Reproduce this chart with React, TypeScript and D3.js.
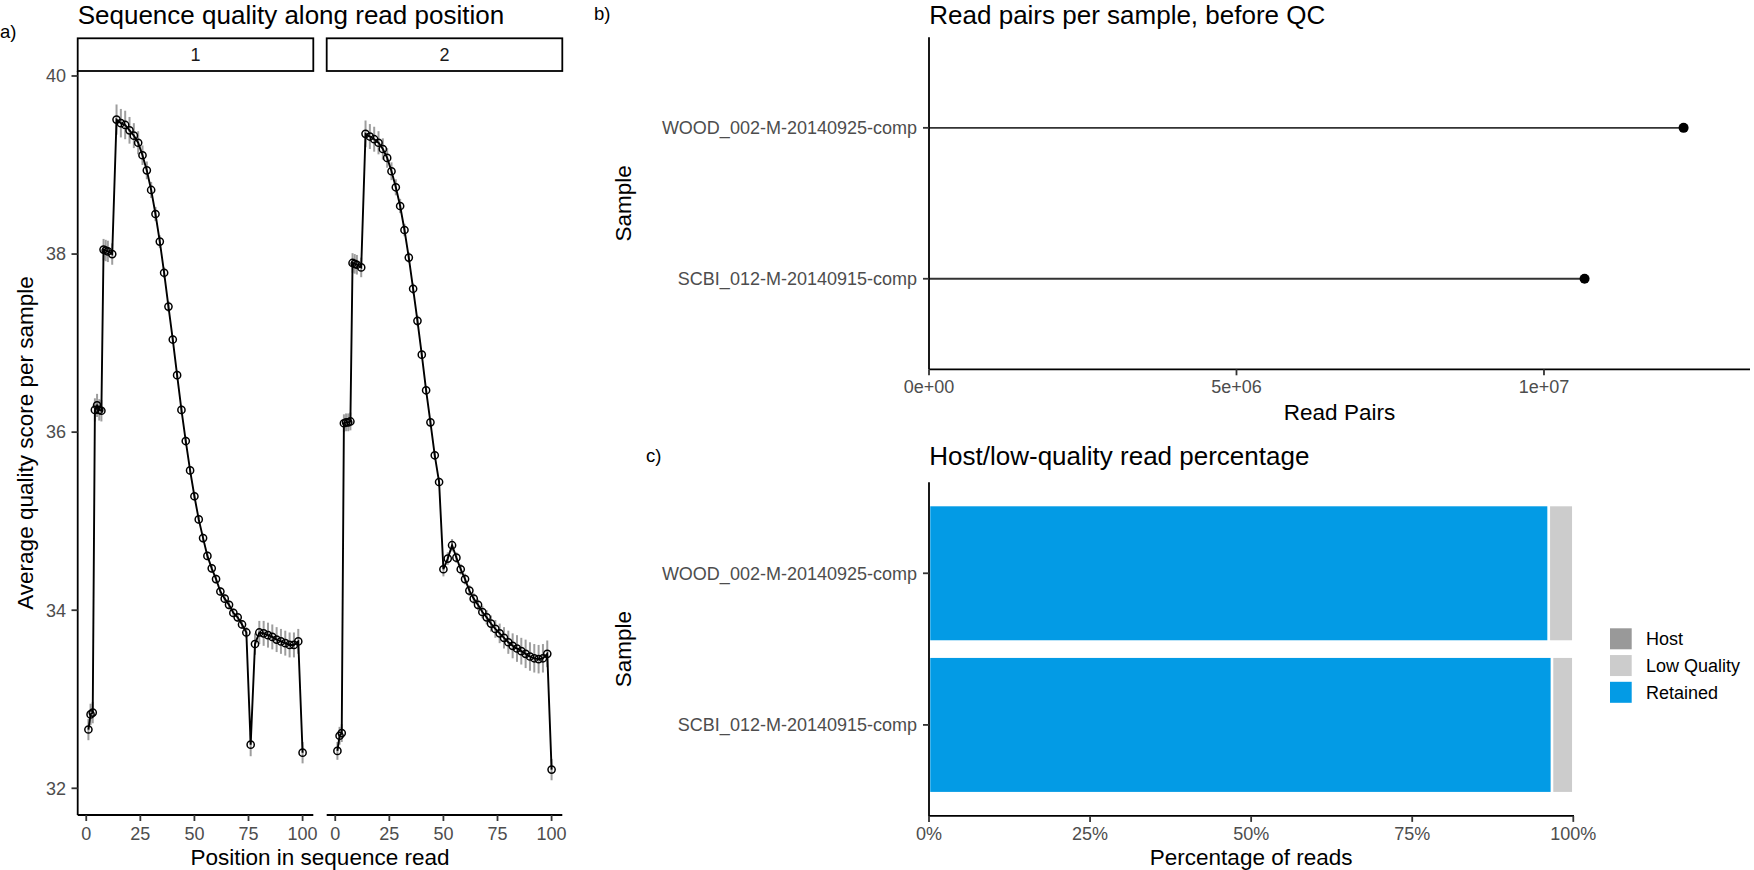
import React from "react";
import * as d3 from "d3";

// read position bins (FastQC-style grouping after base 9)
const positions = [
  1, 2, 3, 4, 5, 6, 7, 8, 9, 10, 12, 14, 16, 18, 20, 22, 24, 26, 28, 30, 32, 34,
  36, 38, 40, 42, 44, 46, 48, 50, 52, 54, 56, 58, 60, 62, 64, 66, 68, 70, 72,
  74, 76, 78, 80, 82, 84, 86, 88, 90, 92, 94, 96, 98, 100,
];

const read1Quality = [
  32.66, 32.83, 32.85, 36.25, 36.3, 36.25, 36.24, 38.05, 38.04, 38.03, 38.0,
  39.51, 39.47, 39.45, 39.39, 39.33, 39.25, 39.11, 38.94, 38.72, 38.45, 38.14,
  37.79, 37.41, 37.04, 36.64, 36.25, 35.9, 35.57, 35.28, 35.02, 34.81, 34.61,
  34.47, 34.35, 34.21, 34.13, 34.06, 33.97, 33.92, 33.84, 33.75, 32.49, 33.62,
  33.75, 33.74, 33.72, 33.7, 33.67, 33.65, 33.63, 33.61, 33.61, 33.65, 32.4,
];
const read1Error = [
  0.12, 0.12, 0.12, 0.13, 0.13, 0.12, 0.12, 0.12, 0.12, 0.12, 0.12, 0.17, 0.16,
  0.16, 0.15, 0.14, 0.13, 0.11, 0.1, 0.09, 0.08, 0.07, 0.06, 0.06, 0.05, 0.05,
  0.05, 0.05, 0.05, 0.05, 0.05, 0.05, 0.05, 0.05, 0.05, 0.05, 0.05, 0.05, 0.05,
  0.05, 0.05, 0.06, 0.13, 0.12, 0.13, 0.14, 0.14, 0.14, 0.14, 0.14, 0.14, 0.14,
  0.14, 0.14, 0.12,
];

const read2Quality = [
  32.42, 32.59, 32.62, 36.1, 36.11, 36.11, 36.12, 37.9, 37.89, 37.88, 37.85,
  39.35, 39.32, 39.29, 39.25, 39.18, 39.08, 38.93, 38.75, 38.54, 38.27, 37.96,
  37.61, 37.25, 36.87, 36.47, 36.11, 35.74, 35.44, 34.46, 34.58, 34.73, 34.59,
  34.46, 34.35, 34.22, 34.13, 34.06, 33.98, 33.92, 33.85, 33.79, 33.74, 33.69,
  33.64, 33.6, 33.57, 33.54, 33.51, 33.48, 33.46, 33.45, 33.46, 33.51, 32.21,
];
const read2Error = [
  0.1, 0.1, 0.1, 0.1, 0.1, 0.1, 0.1, 0.11, 0.11, 0.11, 0.11, 0.15, 0.14, 0.14,
  0.13, 0.12, 0.11, 0.1, 0.09, 0.08, 0.07, 0.06, 0.06, 0.06, 0.05, 0.05, 0.05,
  0.05, 0.05, 0.08, 0.07, 0.07, 0.06, 0.06, 0.06, 0.06, 0.06, 0.06, 0.07, 0.08,
  0.09, 0.1, 0.11, 0.12, 0.13, 0.14, 0.15, 0.15, 0.16, 0.16, 0.16, 0.16, 0.16,
  0.15, 0.12,
];

const samples = ["WOOD_002-M-20140925-comp", "SCBI_012-M-20140915-comp"];
const readPairs = [12270000, 10660000];

const decontamCategories = ["Host", "Low Quality", "Retained"];
const retainedFrac = [0.962, 0.967];
const lowQualityFrac = [0.038, 0.033];
const hostFrac = [0, 0];

const qualityTicks = [32, 34, 36, 38, 40];
const positionTicks = [0, 25, 50, 75, 100];
const readPairTicks = [0, 5e6, 1e7];
const percentTicks = [0, 0.25, 0.5, 0.75, 1];

const FONT = "'Liberation Sans', Arial, Helvetica, sans-serif";
const TICK_COL = "#4D4D4D";
const colors: Record<string, string> = {
  Host: "#999999",
  "Low Quality": "#CCCCCC",
  Retained: "#039BE5",
};

// ggplot-ish scientific label: 5e+06
const sci = (v: number) => {
  const [m, e] = v.toExponential(0).split("e");
  const sign = e[0];
  const digits = e.slice(1).padStart(2, "0");
  return `${m}e${sign}${digits}`;
};

const App: React.FC = () => {
  const W = 1754;
  const H = 870;

  // ---------- panel a ----------
  const aTop = 71;
  const aBottom = 815;
  const facets = [
    { label: "1", left: 77.7, right: 313.3, q: read1Quality, err: read1Error },
    { label: "2", left: 326.7, right: 562.3, q: read2Quality, err: read2Error },
  ];
  const yA = d3.scaleLinear().domain([31.7, 40.056]).range([aBottom, aTop]);

  // ---------- panel b ----------
  const bTop = 37.3;
  const bBottom = 369.3;
  const bLeft = 929;
  const xB = d3.scaleLinear().domain([0, 1.335e7]).range([bLeft, 1750]);
  const yB = d3.scalePoint<string>().domain(samples).range([bTop, bBottom]).padding(0.6);

  // ---------- panel c ----------
  const cTop = 482.3;
  const cBottom = 815.9;
  const cLeft = 929;
  const xC = d3.scaleLinear().domain([0, 1]).range([cLeft, 1573.3]);
  const yC = d3
    .scaleBand<string>()
    .domain(samples)
    .range([cTop, cBottom])
    .paddingInner(0.1)
    .paddingOuter(0.15);

  const stackRows = samples.map((s, i) => ({
    sample: s,
    Retained: retainedFrac[i],
    "Low Quality": lowQualityFrac[i],
    Host: hostFrac[i],
  }));
  const stacked = d3
    .stack<any>()
    .keys(["Retained", "Low Quality", "Host"])(stackRows);

  const axisW = 1.8;

  return (
    <svg
      width={W}
      height={H}
      style={{ position: "absolute", left: 0, top: 0, background: "#fff" }}
      fontFamily={FONT}
    >
      {/* panel tags */}
      <text x={0} y={38} fontSize={18.5}>a)</text>
      <text x={594} y={20} fontSize={18.5}>b)</text>
      <text x={646} y={462} fontSize={18.5}>c)</text>

      {/* ================= panel a ================= */}
      <text x={77.7} y={24} fontSize={26}>
        Sequence quality along read position
      </text>
      <text
        transform={`translate(25,${(aTop + aBottom) / 2}) rotate(-90)`}
        textAnchor="middle"
        dy="0.35em"
        fontSize={22.5}
      >
        Average quality score per sample
      </text>
      <text x={320} y={864.5} textAnchor="middle" fontSize={22.5}>
        Position in sequence read
      </text>

      {/* y axis (left facet only) */}
      <line x1={77.7} x2={77.7} y1={aTop} y2={aBottom} stroke="#000" strokeWidth={axisW} />
      {qualityTicks.map((t) => (
        <g key={t}>
          <line x1={71.5} x2={77.7} y1={yA(t)} y2={yA(t)} stroke="#333" strokeWidth={axisW} />
          <text x={66} y={yA(t)} dy="0.35em" textAnchor="end" fontSize={18} fill={TICK_COL}>
            {t}
          </text>
        </g>
      ))}

      {facets.map((f) => {
        const x = d3
          .scaleLinear()
          .domain([-3.95, 104.95])
          .range([f.left, f.right]);
        const line = d3
          .line<number>()
          .x((_, i) => x(positions[i]))
          .y((d) => yA(d));
        return (
          <g key={f.label}>
            {/* strip */}
            <rect
              x={f.left}
              y={38.3}
              width={f.right - f.left}
              height={aTop - 38.3}
              fill="#fff"
              stroke="#000"
              strokeWidth={1.8}
            />
            <text
              x={(f.left + f.right) / 2}
              y={(38.3 + aTop) / 2}
              dy="0.35em"
              textAnchor="middle"
              fontSize={18}
              fill="#1A1A1A"
            >
              {f.label}
            </text>

            {/* x axis */}
            <line x1={f.left} x2={f.right} y1={aBottom} y2={aBottom} stroke="#000" strokeWidth={axisW} />
            {positionTicks.map((t) => (
              <g key={t}>
                <line x1={x(t)} x2={x(t)} y1={aBottom} y2={aBottom + 6} stroke="#333" strokeWidth={axisW} />
                <text x={x(t)} y={839.7} textAnchor="middle" fontSize={18} fill={TICK_COL}>
                  {t}
                </text>
              </g>
            ))}

            {/* error bars */}
            {f.q.map((v, i) => (
              <line
                key={`e${i}`}
                x1={x(positions[i])}
                x2={x(positions[i])}
                y1={yA(v - f.err[i])}
                y2={yA(v + f.err[i])}
                stroke="#9E9E9E"
                strokeWidth={2}
              />
            ))}

            <path d={line(f.q) ?? ""} fill="none" stroke="#000" strokeWidth={1.9} />

            {f.q.map((v, i) => (
              <circle
                key={`p${i}`}
                cx={x(positions[i])}
                cy={yA(v)}
                r={3.6}
                fill="none"
                stroke="#000"
                strokeWidth={1.5}
              />
            ))}
          </g>
        );
      })}

      {/* ================= panel b ================= */}
      <text x={929.3} y={24} fontSize={26}>
        Read pairs per sample, before QC
      </text>
      <text
        transform={`translate(623,${(bTop + bBottom) / 2}) rotate(-90)`}
        textAnchor="middle"
        dy="0.35em"
        fontSize={22.5}
      >
        Sample
      </text>
      <text x={(bLeft + 1750) / 2} y={419.5} textAnchor="middle" fontSize={22.5}>
        Read Pairs
      </text>

      {samples.map((s, i) => (
        <g key={s}>
          <line
            x1={xB(0)}
            x2={xB(readPairs[i])}
            y1={yB(s)}
            y2={yB(s)}
            stroke="#333"
            strokeWidth={1.9}
          />
          <circle cx={xB(readPairs[i])} cy={yB(s)} r={5} fill="#000" />
        </g>
      ))}

      <line x1={bLeft} x2={bLeft} y1={bTop} y2={bBottom} stroke="#000" strokeWidth={axisW} />
      <line x1={bLeft} x2={1750} y1={bBottom} y2={bBottom} stroke="#000" strokeWidth={axisW} />
      {samples.map((s) => (
        <g key={s}>
          <line x1={bLeft - 6} x2={bLeft} y1={yB(s)} y2={yB(s)} stroke="#333" strokeWidth={axisW} />
          <text x={917} y={yB(s)} dy="0.35em" textAnchor="end" fontSize={18} fill={TICK_COL}>
            {s}
          </text>
        </g>
      ))}
      {readPairTicks.map((t) => (
        <g key={t}>
          <line x1={xB(t)} x2={xB(t)} y1={bBottom} y2={bBottom + 6} stroke="#333" strokeWidth={axisW} />
          <text x={xB(t)} y={393} textAnchor="middle" fontSize={18} fill={TICK_COL}>
            {sci(t)}
          </text>
        </g>
      ))}

      {/* ================= panel c ================= */}
      <text x={929.3} y={465} fontSize={26}>
        Host/low-quality read percentage
      </text>
      <text
        transform={`translate(623,${(cTop + cBottom) / 2}) rotate(-90)`}
        textAnchor="middle"
        dy="0.35em"
        fontSize={22.5}
      >
        Sample
      </text>
      <text x={(cLeft + 1573.3) / 2} y={864.5} textAnchor="middle" fontSize={22.5}>
        Percentage of reads
      </text>

      {stacked.map((layer) => (
        <g key={layer.key} fill={colors[layer.key]}>
          {layer.map((seg, i) =>
            seg[1] - seg[0] > 0 ? (
              <rect
                key={i}
                x={xC(seg[0])}
                y={yC(samples[i])}
                width={xC(seg[1]) - xC(seg[0])}
                height={yC.bandwidth()}
                stroke="#fff"
                strokeWidth={2.5}
              />
            ) : null
          )}
        </g>
      ))}

      <line x1={cLeft} x2={cLeft} y1={cTop} y2={cBottom} stroke="#000" strokeWidth={axisW} />
      <line x1={cLeft} x2={1574} y1={cBottom} y2={cBottom} stroke="#000" strokeWidth={axisW} />
      {samples.map((s) => {
        const cy = (yC(s) ?? 0) + yC.bandwidth() / 2;
        return (
          <g key={s}>
            <line x1={cLeft - 6} x2={cLeft} y1={cy} y2={cy} stroke="#333" strokeWidth={axisW} />
            <text x={917} y={cy} dy="0.35em" textAnchor="end" fontSize={18} fill={TICK_COL}>
              {s}
            </text>
          </g>
        );
      })}
      {percentTicks.map((t) => (
        <g key={t}>
          <line x1={xC(t)} x2={xC(t)} y1={cBottom} y2={cBottom + 6} stroke="#333" strokeWidth={axisW} />
          <text x={xC(t)} y={839.7} textAnchor="middle" fontSize={18} fill={TICK_COL}>
            {d3.format(".0%")(t)}
          </text>
        </g>
      ))}

      {/* legend */}
      {decontamCategories.map((c, i) => {
        const cy = 638.8 + i * 26.75;
        return (
          <g key={c}>
            <rect x={1610} y={cy - 10.5} width={21.7} height={21} fill={colors[c]} />
            <text x={1646} y={cy} dy="0.35em" fontSize={18} fill="#000">
              {c}
            </text>
          </g>
        );
      })}
    </svg>
  );
};

export default App;
